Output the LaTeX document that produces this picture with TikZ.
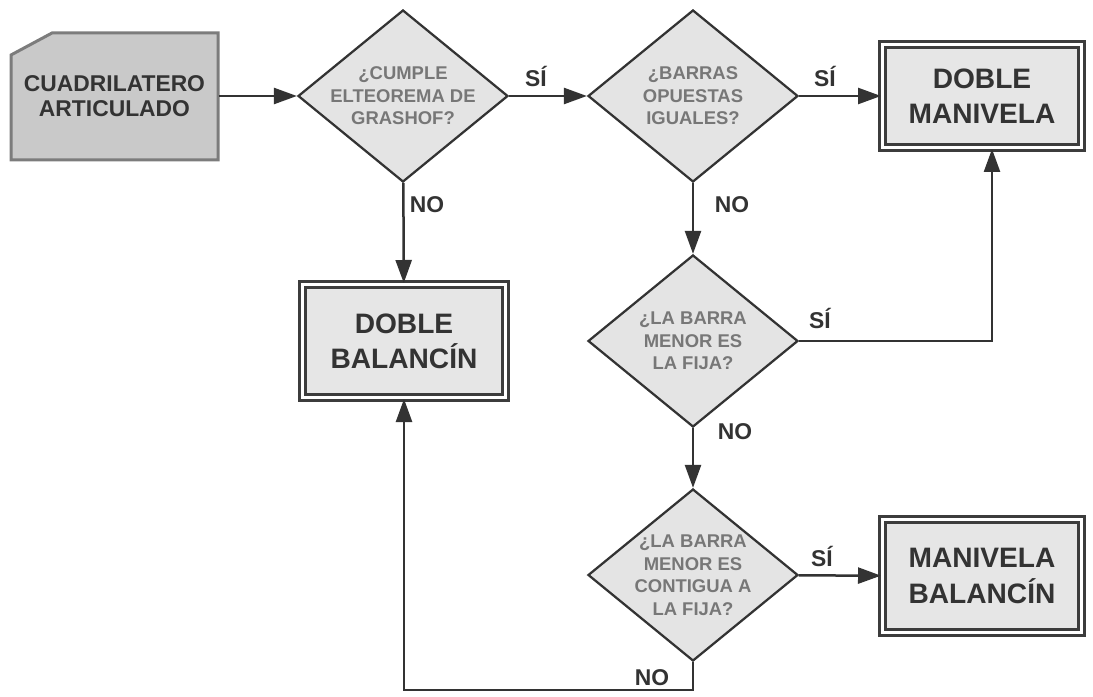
\documentclass[tikz,border=0pt]{standalone}
\usepackage{fontspec}
\setmainfont{Liberation Sans}
\usetikzlibrary{shapes.geometric, arrows.meta}

\definecolor{linegray}{HTML}{333333}
\definecolor{diafill}{HTML}{E4E4E4}
\definecolor{diatext}{HTML}{777777}
\definecolor{boxfill}{HTML}{E6E6E6}
\definecolor{boxline}{HTML}{3C3C3C}
\definecolor{startfill}{HTML}{C9C9C9}
\definecolor{startline}{HTML}{7C7C7C}

\begin{document}
\begin{tikzpicture}[x = 0.2mm, y = -0.2mm,
    flow/.style = {->, > = {Triangle[length = 4.6mm, width = 3.2mm]}, line width = 0.5mm, draw = linegray},
    card/.style = {draw = startline, line width = 0.6mm, fill = startfill},
    start/.style = {rectangle, minimum width = 41.6mm, minimum height = 25.6mm,
        align = center, text = linegray, font = \bfseries\fontsize{13}{14.5}\selectfont},
    question/.style = {diamond, aspect = 1.25, inner sep = -5pt, minimum width = 42mm, minimum height = 34.4mm,
        draw = linegray, line width = 0.45mm, fill = diafill, align = center, text = diatext,
        font = \bfseries\fontsize{10.5}{12.8}\selectfont},
    result/.style = {rectangle, draw = boxline, line width = 0.6mm, double = white, double distance = 0.6mm,
        fill = boxfill, align = center, text = linegray, font = \bfseries\fontsize{16}{20}\selectfont},
    answer/.style = {text = linegray, font = \bfseries\fontsize{13}{15}\selectfont}]

\useasboundingbox (0, 0) rectangle (1093, 697);

% Input card
    \filldraw[card] (11, 55) -- (52, 33) -- (218, 33) -- (218, 160) -- (11, 160) -- cycle;

% Nodes
    \node[start] (Q) at (114.5, 96) {CUADRILATERO\\ARTICULADO};
    \node[question] (D1) at (403, 96) {¿CUMPLE\\ELTEOREMA DE\\GRASHOF?};
    \node[question] (D2) at (693, 96) {¿BARRAS\\OPUESTAS\\IGUALES?};
    \node[question] (D3) at (693, 341) {¿LA BARRA\\MENOR ES\\LA FIJA?};
    \node[question] (D4) at (693, 575) {¿LA BARRA\\MENOR ES\\CONTIGUA A\\LA FIJA?};
    \node[result, minimum width = 39.8mm, minimum height = 20.6mm] (DM) at (982, 96) {DOBLE\\MANIVELA};
    \node[result, minimum width = 40.6mm, minimum height = 22.6mm] (DB) at (404, 341) {DOBLE\\BALANCÍN};
    \node[result, minimum width = 39.8mm, minimum height = 22.6mm] (MB) at (982, 576) {MANIVELA\\BALANCÍN};
    \coordinate (turn) at (693, 690);

% Directions
    \draw[flow] (Q) -- (D1);
    \draw[flow] (D1) -- (D2);
    \draw[flow] (D2) -- (DM);
    \draw[flow] (D1) -- (DB);
    \draw[flow] (D2) -- (D3);
    \draw[flow] (D3) -- (D4);
    \draw[flow] (D4) -- (MB);
    \draw[flow] (D3.east) -| ([xshift = 2mm]DM.south);
    \draw[flow] (D4.south) -- (turn) -| (DB.south);

% Answers
    \node[answer] (s1) at (536, 76) {SÍ};
    \node[answer] (s2) at (825, 76) {SÍ};
    \node[answer] (n1) at (427, 205) {NO};
    \node[answer] (n2) at (732, 205) {NO};
    \node[answer] (s3) at (820, 318) {SÍ};
    \node[answer] (n3) at (735, 432) {NO};
    \node[answer] (s4) at (822, 556) {SÍ};
    \node[answer] (n4) at (652, 678) {NO};

\end{tikzpicture}
\end{document}
